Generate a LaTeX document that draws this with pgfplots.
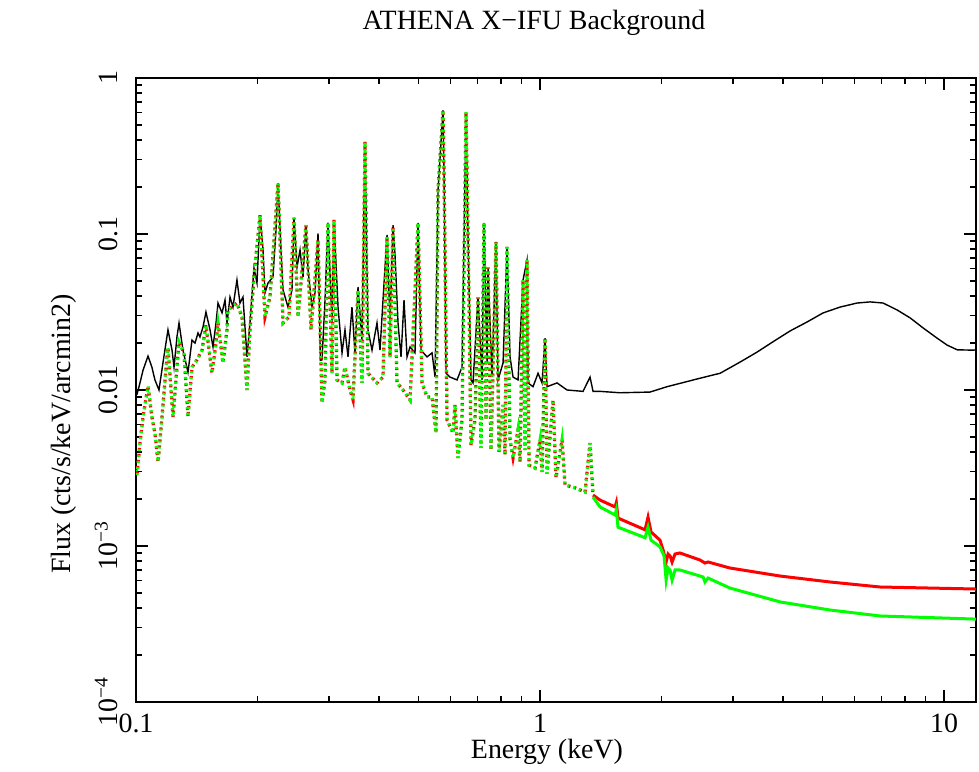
\documentclass[border=0pt]{standalone}
\usepackage{fontspec}
\setmainfont{Liberation Serif}
\usepackage{pgfplots}
\pgfplotsset{compat=1.18}
\begin{document}
\begin{tikzpicture}
\useasboundingbox (-68bp,-35bp) rectangle (421.5bp,351bp);
\begin{axis}[
  at={(0,0)}, anchor=south west,
  scale only axis, width=420bp, height=312bp,
  xmode=log, ymode=log,
  xmin=0.1, xmax=12, ymin=1e-4, ymax=1,
  axis line style={line width=1bp},
  every tick/.style={black, line width=0.8bp},
  major tick length=6bp, minor tick length=3bp,
  tick align=inside,
  xtick={0.1,1,10}, xticklabels={0.1,1,10},
  ytick={1e-4,1e-3,1e-2,1e-1,1},
  yticklabels={10\textsuperscript{−4},10\textsuperscript{−3},0.01,0.1,1},
  xticklabel style={anchor=base, yshift=-15bp, font=\fontsize{14}{16}\selectfont},
  yticklabel style={rotate=90, anchor=base, yshift=9bp, font=\fontsize{14}{16}\selectfont},
]
% Total background (black)
\addplot[black, line width=0.7bp] coordinates {
(0.1000,0.0094) (0.1006,0.0094) (0.1023,0.0111) (0.1041,0.0134) (0.1071,0.0165)
(0.1095,0.0140) (0.1114,0.0116) (0.1140,0.0100) (0.1166,0.0149) (0.1200,0.0243)
(0.1228,0.0180) (0.1242,0.0140) (0.1263,0.0219) (0.1278,0.0269) (0.1307,0.0180)
(0.1345,0.0130) (0.1376,0.0209) (0.1400,0.0200) (0.1424,0.0232) (0.1440,0.0219)
(0.1465,0.0253) (0.1490,0.0316) (0.1525,0.0243) (0.1551,0.0189) (0.1578,0.0269)
(0.1596,0.0361) (0.1633,0.0312) (0.1661,0.0377) (0.1680,0.0269) (0.1709,0.0394)
(0.1738,0.0340) (0.1778,0.0507) (0.1809,0.0361) (0.1840,0.0394) (0.1883,0.0163)
(0.1915,0.0269) (0.1959,0.0605) (0.1993,0.0485) (0.2028,0.132) (0.2063,0.0789)
(0.2086,0.0419) (0.2122,0.0485) (0.2183,0.0530) (0.2221,0.106) (0.2247,0.212)
(0.2285,0.0789) (0.2312,0.0438) (0.2378,0.0340) (0.2433,0.0438) (0.2461,0.127)
(0.2504,0.0614) (0.2547,0.0789) (0.2591,0.0530) (0.2635,0.114) (0.2666,0.0588)
(0.2727,0.0340) (0.2774,0.0419) (0.2822,0.101) (0.2860,0.0155) (0.2887,0.0156)
(0.2937,0.0377) (0.2987,0.118) (0.3056,0.0269) (0.3091,0.123) (0.3163,0.0340)
(0.3236,0.0173) (0.3291,0.0243) (0.3348,0.0163) (0.3425,0.0340) (0.3484,0.0173)
(0.3545,0.0457) (0.3626,0.0209) (0.3689,0.389) (0.3752,0.0243) (0.3839,0.0180)
(0.3950,0.0269) (0.4018,0.0180) (0.4087,0.0377) (0.4182,0.0986) (0.4254,0.0269)
(0.4327,0.114) (0.4377,0.0733) (0.4452,0.0269) (0.4529,0.0163) (0.4607,0.0377)
(0.4687,0.0163) (0.4768,0.0189) (0.4905,0.0173) (0.4990,0.118) (0.5076,0.0180)
(0.5253,0.0163) (0.5405,0.0173) (0.5498,0.0121) (0.5593,0.191) (0.5754,0.623)
(0.5787,0.246) (0.5853,0.0128) (0.5988,0.0121) (0.6232,0.0116) (0.6412,0.0140)
(0.6560,0.605) (0.6636,0.0957) (0.6750,0.0116) (0.6827,0.0111) (0.7025,0.0394)
(0.7187,0.0116) (0.7269,0.118) (0.7395,0.0149) (0.7437,0.0614) (0.7608,0.0121)
(0.7784,0.0889) (0.7873,0.0116) (0.8101,0.0149) (0.8287,0.0826) (0.8430,0.0163)
(0.8576,0.0121) (0.8824,0.0116) (0.9079,0.0507) (0.9288,0.0681) (0.9341,0.0111)
(0.9611,0.0105) (0.9889,0.0128) (1.0117,0.0111) (1.0291,0.0215) (1.0409,0.0105)
(1.1020,0.0111) (1.1667,0.0100) (1.278,0.0098) (1.330,0.0121) (1.353,0.0098)
(1.408,0.0098) (1.578,0.0096) (1.872,0.0097) (2.063,0.0105) (2.490,0.0119)
(2.791,0.0128) (3.128,0.0151) (3.446,0.0175) (3.776,0.0204) (4.159,0.0239)
(4.583,0.0273) (5.020,0.0312) (5.531,0.0340) (6.094,0.0361) (6.562,0.0367)
(7.066,0.0361) (7.653,0.0326) (8.241,0.0290) (8.875,0.0250) (9.612,0.0215)
(10.18,0.0194) (10.78,0.0181) (11.80,0.0180) (12.0,0.0181)
};
% low-energy part shared by both components (red under green)
\addplot[red, line width=1.6bp, dash pattern=on 1.2bp off 1.8bp] coordinates {
(0.1000,0.00307) (0.1006,0.00285) (0.1023,0.00457) (0.1041,0.00672) (0.1071,0.0106)
(0.1095,0.00672) (0.1114,0.00530) (0.1134,0.00345) (0.1160,0.00672) (0.1193,0.0163)
(0.1200,0.0187) (0.1235,0.00672) (0.1278,0.0203) (0.1315,0.0173) (0.1345,0.00672)
(0.1376,0.0140) (0.1416,0.0156) (0.1457,0.0180) (0.1490,0.0261) (0.1542,0.0128)
(0.1578,0.0200) (0.1596,0.0269) (0.1642,0.0149) (0.1680,0.0243) (0.1689,0.0326)
(0.1778,0.0361) (0.1830,0.0294) (0.1883,0.0100) (0.1915,0.0243) (0.1959,0.0530)
(0.2028,0.132) (0.2086,0.0294) (0.2146,0.0394) (0.2247,0.212) (0.2312,0.0269)
(0.2392,0.0294) (0.2461,0.127) (0.2518,0.0294) (0.2635,0.114) (0.2712,0.0243)
(0.2822,0.0916) (0.2887,0.00826) (0.2937,0.0116) (0.2987,0.118) (0.3056,0.0128)
(0.3091,0.123) (0.3145,0.0116) (0.3236,0.0111) (0.3291,0.0140) (0.3387,0.0100)
(0.3445,0.00863) (0.3545,0.0438) (0.3626,0.0111) (0.3689,0.389) (0.3752,0.0128)
(0.3950,0.0111) (0.4087,0.0121) (0.4182,0.0957) (0.4254,0.0163) (0.4327,0.111)
(0.4427,0.0111) (0.4581,0.0100) (0.4768,0.00863) (0.4990,0.118) (0.5105,0.0111)
(0.5253,0.00902) (0.5405,0.00902) (0.5529,0.00530) (0.5593,0.191) (0.5754,0.623)
(0.5787,0.246) (0.5887,0.00643) (0.6092,0.00530) (0.6161,0.00802) (0.6268,0.00367)
(0.6412,0.00643) (0.6560,0.605) (0.6636,0.0957) (0.6750,0.00444) (0.6905,0.00643)
(0.7025,0.0394) (0.7146,0.00425) (0.7269,0.118) (0.7352,0.00643) (0.7437,0.0614)
(0.7565,0.00412) (0.7784,0.0889) (0.7918,0.00401) (0.8101,0.00802) (0.8193,0.00383)
(0.8287,0.0826) (0.8430,0.00478) (0.8576,0.00367) (0.8824,0.00554) (0.8925,0.00345)
(0.9079,0.0507) (0.9183,0.00412) (0.9288,0.0681) (0.9395,0.00330) (0.9722,0.00316)
(1.0003,0.00478) (1.0117,0.00298) (1.0291,0.0215) (1.0409,0.00290) (1.0771,0.00863)
(1.0957,0.00273) (1.1338,0.00478) (1.1534,0.00246) (1.2211,0.00236) (1.2927,0.00222)
(1.330,0.00457) (1.353,0.00212)
};
\addplot[green, line width=1.6bp, dash pattern=on 1.0bp off 2.0bp, dash phase=0.4bp] coordinates {
(0.1000,0.00307) (0.1006,0.00285) (0.1023,0.00457) (0.1041,0.00672) (0.1071,0.0106)
(0.1095,0.00672) (0.1114,0.00530) (0.1134,0.00345) (0.1160,0.00672) (0.1193,0.0163)
(0.1200,0.0187) (0.1235,0.00672) (0.1278,0.0203) (0.1315,0.0173) (0.1345,0.00672)
(0.1376,0.0140) (0.1416,0.0156) (0.1457,0.0180) (0.1490,0.0261) (0.1542,0.0128)
(0.1578,0.0200) (0.1596,0.0269) (0.1642,0.0149) (0.1680,0.0243) (0.1689,0.0326)
(0.1778,0.0361) (0.1830,0.0294) (0.1883,0.0100) (0.1915,0.0243) (0.1959,0.0530)
(0.2028,0.132) (0.2086,0.0294) (0.2146,0.0394) (0.2247,0.212) (0.2312,0.0269)
(0.2392,0.0294) (0.2461,0.127) (0.2518,0.0294) (0.2635,0.114) (0.2712,0.0243)
(0.2822,0.0916) (0.2887,0.00826) (0.2937,0.0116) (0.2987,0.118) (0.3056,0.0128)
(0.3091,0.123) (0.3145,0.0116) (0.3236,0.0111) (0.3291,0.0140) (0.3387,0.0100)
(0.3445,0.00863) (0.3545,0.0438) (0.3626,0.0111) (0.3689,0.389) (0.3752,0.0128)
(0.3950,0.0111) (0.4087,0.0121) (0.4182,0.0957) (0.4254,0.0163) (0.4327,0.111)
(0.4427,0.0111) (0.4581,0.0100) (0.4768,0.00863) (0.4990,0.118) (0.5105,0.0111)
(0.5253,0.00902) (0.5405,0.00902) (0.5529,0.00530) (0.5593,0.191) (0.5754,0.623)
(0.5787,0.246) (0.5887,0.00643) (0.6092,0.00530) (0.6161,0.00802) (0.6268,0.00367)
(0.6412,0.00643) (0.6560,0.605) (0.6636,0.0957) (0.6750,0.00444) (0.6905,0.00643)
(0.7025,0.0394) (0.7146,0.00425) (0.7269,0.118) (0.7352,0.00643) (0.7437,0.0614)
(0.7565,0.00412) (0.7784,0.0889) (0.7918,0.00401) (0.8101,0.00802) (0.8193,0.00383)
(0.8287,0.0826) (0.8430,0.00478) (0.8576,0.00367) (0.8824,0.00554) (0.8925,0.00345)
(0.9079,0.0507) (0.9183,0.00412) (0.9288,0.0681) (0.9395,0.00330) (0.9722,0.00316)
(1.0003,0.00478) (1.0117,0.00298) (1.0291,0.0215) (1.0409,0.00290) (1.0771,0.00863)
(1.0957,0.00273) (1.1338,0.00478) (1.1534,0.00246) (1.2211,0.00236) (1.2927,0.00222)
(1.330,0.00457) (1.353,0.00212)
};
% high-energy part: red component
\addplot[red, line width=1.5bp] coordinates {
(1.353,0.00212) (1.408,0.00197) (1.534,0.00178) (1.545,0.00190) (1.560,0.00151)
(1.820,0.00127) (1.851,0.00153) (1.883,0.00123) (1.982,0.00109) (2.017,0.000942)
(2.052,0.000789) (2.075,0.000889) (2.099,0.000863) (2.123,0.000789) (2.159,0.000889)
(2.22,0.000902) (2.49,0.000813) (2.56,0.000778) (2.606,0.000790) (2.95,0.000723)
(3.93,0.000642) (5.22,0.000588) (6.95,0.000546) (12.0,0.000530)
};
% high-energy part: green component
\addplot[green, line width=1.5bp] coordinates {
(1.353,0.00206) (1.408,0.00178) (1.534,0.00158) (1.545,0.00170) (1.560,0.00132)
(1.820,0.00113) (1.851,0.00132) (1.883,0.00109) (1.982,0.000986) (2.028,0.000863)
(2.052,0.000605) (2.075,0.000723) (2.099,0.000700) (2.123,0.000605) (2.159,0.000702)
(2.22,0.000702) (2.533,0.000633) (2.56,0.000588) (2.606,0.000623) (2.95,0.000538)
(3.93,0.000438) (5.22,0.000389) (6.95,0.000356) (12.0,0.000340)
};
\end{axis}
\node[anchor=base, font=\fontsize{14}{16}\selectfont] at (199bp,336bp) {ATHENA X−IFU Background};
\node[anchor=base, font=\fontsize{14}{16}\selectfont] at (205.5bp,-28bp) {Energy (keV)};
\node[anchor=base, rotate=90, font=\fontsize{14}{16}\selectfont] at (-33bp,134bp) {Flux (cts/s/keV/arcmin2)};
\end{tikzpicture}
\end{document}
